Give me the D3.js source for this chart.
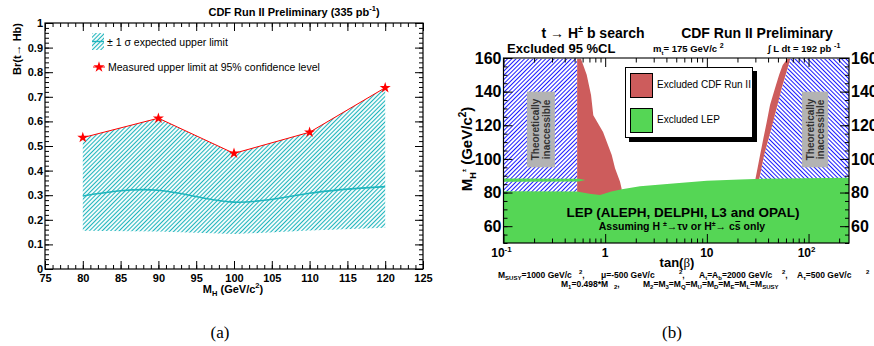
<!DOCTYPE html>
<html><head><meta charset="utf-8">
<script src="https://cdn.jsdelivr.net/npm/d3@7"></script>
<style>
body{margin:0;background:#fff}
svg{display:block;font-family:"Liberation Sans",Arial,Helvetica,sans-serif}
</style>
</head><body>
<svg id="c" width="874" height="346"></svg>
<script>
// ---------- Panel (a): Br(t -> Hb) upper limits ----------
const massPoints = [80, 90, 100, 110, 120];
const measuredLimit = [0.534, 0.613, 0.470, 0.556, 0.737];
const expectedMedian = [0.297, 0.320, 0.272, 0.308, 0.335];
const expectedLow = [0.155, 0.152, 0.142, 0.156, 0.168];
const massTicks = [75, 80, 85, 90, 95, 100, 105, 110, 115, 120, 125];
const brTicks = [0, 0.1, 0.2, 0.3, 0.4, 0.5, 0.6, 0.7, 0.8, 0.9, 1];

// ---------- Panel (b): tan(beta) vs M_H+ exclusion ----------
const tanbTickLabels = [[0.1, "10", "-1"], [1, "1", ""], [10, "10", ""], [100, "10", "2"]];
const mhTicks = [60, 80, 100, 120, 140, 160];
// CDF excluded region, small tan(beta)
const cdfLowEdge = [[0.574,160],[0.658,150],[0.726,138],[0.764,126],[0.953,116],[1.16,102.3],[1.25,94.5],[1.40,86.4],[1.45,82.4],[1.45,76],[0.53,76],[0.53,160]];
// CDF excluded region, large tan(beta): outer edge then boundary of inaccessible region
const cdfHighEdge = [[62.8,160],[55.7,155.8],[51.3,149.9],[46.8,142],[41.8,132],[38.8,122],[35.9,112],[33.3,102],[31.4,94],[29.8,87]];
const inaccessHighEdge = [[66.5,160],[54.5,142],[44.8,122],[36.5,102],[32.5,87]];
const inaccessLowMax = 0.53;
// LEP excluded region upper boundary
const lepEdge = [[0.1,80.8],[0.53,80.6],[0.7,79.3],[0.89,78.5],[1.15,80.6],[1.46,82],[2.2,83.7],[4.65,85.4],[10,87],[21.2,87.8],[29.8,88.1],[250,88.75]];
const lepStrip = [[0.1,88.4],[0.55,88.2],[0.64,87.4],[0.55,86.6],[0.1,86.4]];

const svg = d3.select("#c");
const defs = svg.append("defs");
const SERIF = '"Liberation Serif","Times New Roman",serif';

// Text with sub/superscript runs: segs = [[text, "sub"|"sup"|null, size?], ...]
function rich(t, segs, base) {
  let cur = 0;
  segs.forEach(([s, kind, size]) => {
    const off = kind === "sub" ? base * 0.28 : kind === "sup" ? -base * 0.42 : 0;
    const sp = t.append("tspan").attr("dy", off - cur).text(s);
    if (kind) sp.attr("font-size", size || base * 0.68);
    cur = off;
  });
  return t;
}

function hatch(id, color, angle, gap, w) {
  const p = defs.append("pattern").attr("id", id).attr("patternUnits", "userSpaceOnUse")
    .attr("width", gap).attr("height", gap).attr("patternTransform", `rotate(${angle})`);
  p.append("rect").attr("width", gap).attr("height", gap).attr("fill", "#fff");
  p.append("line").attr("x1", gap / 2).attr("y1", 0).attr("x2", gap / 2).attr("y2", gap)
    .attr("stroke", color).attr("stroke-width", w);
}
hatch("hatchCyan", "#1fb5bd", 45, 3.0, 1.1);
hatch("hatchBlueL", "#1a1aff", 45, 3.0, 1.0);
hatch("hatchBlueR", "#1a1aff", -45, 3.0, 1.0);

// ================= Panel (a) =================
const xA = d3.scaleLinear().domain([75, 125]).range([45, 423]);
const yA = d3.scaleLinear().domain([0, 1]).range([269, 23]);
const gA = svg.append("g");

const bandData = massPoints.map((m, i) => ({m, lo: expectedLow[i], hi: measuredLimit[i]}));
gA.append("path").datum(bandData)
  .attr("d", d3.area().x(d => xA(d.m)).y0(d => yA(d.lo)).y1(d => yA(d.hi)))
  .attr("fill", "url(#hatchCyan)");

gA.append("path").datum(massPoints.map((m, i) => [m, expectedMedian[i]]))
  .attr("d", d3.line().x(d => xA(d[0])).y(d => yA(d[1])).curve(d3.curveNatural))
  .attr("fill", "none").attr("stroke", "#1fb5bd").attr("stroke-width", 1.6);

gA.append("path").datum(massPoints.map((m, i) => [m, measuredLimit[i]]))
  .attr("d", d3.line().x(d => xA(d[0])).y(d => yA(d[1])))
  .attr("fill", "none").attr("stroke", "#ff0000").attr("stroke-width", 1);

const star = d3.symbol().type(d3.symbolStar).size(38);
gA.selectAll("path.star").data(massPoints.map((m, i) => [m, measuredLimit[i]]))
  .join("path").attr("class", "star")
  .attr("transform", d => `translate(${xA(d[0])},${yA(d[1])})`)
  .attr("d", star).attr("fill", "#ff0000");

// frame + axes
gA.append("rect").attr("x", 45).attr("y", 23).attr("width", 378).attr("height", 246)
  .attr("fill", "none").attr("stroke", "#000").attr("stroke-width", 1.2);

function styleAxis(g, fs) {
  g.select(".domain").remove();
  g.selectAll(".tick line").attr("stroke", "#000").attr("stroke-width", 1);
  g.selectAll("text").attr("font-size", fs).attr("font-weight", "bold").attr("fill", "#000")
    .attr("font-family", '"Liberation Sans",Arial,sans-serif');
}
const minorMass = d3.range(75, 125.5, 1);
const minorBr = d3.range(0, 1.001, 0.02);
[[d3.axisBottom, 269], [d3.axisTop, 23]].forEach(([ax, y], k) => {
  const maj = gA.append("g").attr("transform", `translate(0,${y})`)
    .call(ax(xA).tickValues(massTicks).tickSize(-8).tickPadding(5).tickFormat(k === 0 ? d3.format("d") : ""));
  styleAxis(maj, 11);
  const mn = gA.append("g").attr("transform", `translate(0,${y})`)
    .call(ax(xA).tickValues(minorMass).tickSize(-4).tickFormat(""));
  styleAxis(mn, 11);
});
[[d3.axisLeft, 45], [d3.axisRight, 423]].forEach(([ax, x], k) => {
  const maj = gA.append("g").attr("transform", `translate(${x},0)`)
    .call(ax(yA).tickValues(brTicks).tickSize(-8).tickPadding(2).tickFormat(k === 0 ? (d => d === 0 ? "0" : d === 1 ? "1" : d3.format(".1f")(d)) : ""));
  styleAxis(maj, 11);
  const mn = gA.append("g").attr("transform", `translate(${x},0)`)
    .call(ax(yA).tickValues(minorBr).tickSize(-4).tickFormat(""));
  styleAxis(mn, 11);
});

// titles
rich(gA.append("text").attr("x", 294).attr("y", 16).attr("text-anchor", "middle")
  .attr("font-size", 11).attr("font-weight", "bold"),
  [["CDF Run II Preliminary (335 pb", null], ["-1", "sup", 7.5], [")", null]], 11);

gA.append("text").attr("transform", "translate(21,23) rotate(-90)").attr("text-anchor", "end")
  .attr("font-size", 11).attr("font-weight", "bold").text("Br(t\u2192 Hb)");

rich(gA.append("text").attr("x", 233).attr("y", 293).attr("text-anchor", "middle")
  .attr("font-size", 11).attr("font-weight", "bold"),
  [["M", null], ["H", "sub", 7.5], [" (GeV/c", null], ["2", "sup", 7.5], [")", null]], 11);

// legend
gA.append("rect").attr("x", 92).attr("y", 33).attr("width", 12).attr("height", 17).attr("fill", "url(#hatchCyan)");
gA.append("line").attr("x1", 92).attr("x2", 104).attr("y1", 41.5).attr("y2", 41.5).attr("stroke", "#1fb5bd").attr("stroke-width", 1.4);
gA.append("text").attr("x", 107).attr("y", 46).attr("font-size", 10.5).text("\u00b1 1 \u03c3 expected upper limit");
gA.append("line").attr("x1", 93).attr("x2", 105).attr("y1", 67).attr("y2", 67).attr("stroke", "#ff0000");
gA.append("path").attr("transform", "translate(99,67)").attr("d", star).attr("fill", "#ff0000");
gA.append("text").attr("x", 108).attr("y", 71).attr("font-size", 10.5).text("Measured upper limit at 95% confidence level");

svg.append("text").attr("x", 220).attr("y", 338).attr("text-anchor", "middle")
  .attr("font-family", SERIF).attr("font-size", 17).text("(a)");

// ================= Panel (b) =================
const xB = d3.scaleLog().domain([0.1, 250]).range([503.5, 849]);
const yB = d3.scaleLinear().domain([50, 160]).range([243, 58]);
const gB = svg.append("g");
defs.append("clipPath").attr("id", "clipB").append("rect")
  .attr("x", 503.5).attr("y", 58).attr("width", 345.5).attr("height", 185);
const plotB = gB.append("g").attr("clip-path", "url(#clipB)");
const lineB = d3.line().x(d => xB(d[0])).y(d => yB(d[1]));

// theoretically inaccessible (hatched)
plotB.append("path").datum([[0.1,160],[inaccessLowMax,160],[inaccessLowMax,76],[0.1,76]])
  .attr("d", lineB).attr("fill", "url(#hatchBlueL)");
plotB.append("path").datum(inaccessHighEdge.concat([[250,87],[250,160]]))
  .attr("d", lineB).attr("fill", "url(#hatchBlueR)");

// CDF exclusion
const cdfRed = "#cd5c5c";
plotB.append("path").datum(cdfLowEdge).attr("d", lineB).attr("fill", cdfRed);
plotB.append("path").datum(cdfHighEdge.concat(inaccessHighEdge.slice().reverse()))
  .attr("d", lineB).attr("fill", cdfRed);

// LEP exclusion
const lepGreen = "#55d655";
plotB.append("path").datum(lepEdge.concat([[250,50],[0.1,50]])).attr("d", lineB).attr("fill", lepGreen);
plotB.append("path").datum(lepStrip).attr("d", lineB).attr("fill", lepGreen);

// gray annotation boxes
function grayBox(x0, x1) {
  const bx = xB(x0), bw = xB(x1) - xB(x0), by = yB(140), bh = yB(95) - yB(140);
  plotB.append("rect").attr("x", bx).attr("y", by).attr("width", bw).attr("height", bh).attr("fill", "#b3b3b3");
  const cx = bx + bw / 2, cy = by + bh / 2;
  const t = plotB.append("text").attr("transform", `translate(${cx},${cy}) rotate(-90)`)
    .attr("text-anchor", "middle").attr("font-size", 10).attr("font-weight", "bold").attr("fill", "#333");
  t.append("tspan").attr("x", 0).attr("dy", -1.5).text("Theoretically");
  t.append("tspan").attr("x", 0).attr("dy", 10.5).text("inaccessible");
}
grayBox(0.17, 0.32);
grayBox(86, 156);

// LEP labels
gB.append("text").attr("x", 683).attr("y", 217).attr("text-anchor", "middle")
  .attr("font-size", 13.5).attr("font-weight", "bold").text("LEP (ALEPH, DELPHI, L3 and OPAL)");
const asmSegs = [["Assuming H ", null], ["\u00b1", "sup", 7], ["\u2192\u03c4\u03bd or H", null], ["\u00b1", "sup", 7], ["\u2192 cs", null], [" only", null]];
const asm = rich(gB.append("text").attr("x", 682).attr("y", 230).attr("text-anchor", "middle")
  .attr("font-size", 10.5).attr("font-weight", "bold"), asmSegs, 10.5);
// bar over the strange quark
{
  const idx = asmSegs.slice(0, 5).map(d => d[0]).join("").length - 1;
  const r = asm.node().getExtentOfChar(idx);
  gB.append("line").attr("x1", r.x + 0.5).attr("x2", r.x + r.width - 0.5)
    .attr("y1", 221.5).attr("y2", 221.5).attr("stroke", "#000").attr("stroke-width", 1);
}

// frame
gB.append("rect").attr("x", 503.5).attr("y", 58).attr("width", 345.5).attr("height", 185)
  .attr("fill", "none").attr("stroke", "#000").attr("stroke-width", 1.2);
gB.append("line").attr("x1", 503.5).attr("x2", 849).attr("y1", 58).attr("y2", 58).attr("stroke", "#777").attr("stroke-width", 1.6);

// axes
const minorMh = d3.range(50, 160.5, 5);
[[d3.axisLeft, 503.5], [d3.axisRight, 849]].forEach(([ax, x]) => {
  const maj = gB.append("g").attr("transform", `translate(${x},0)`)
    .call(ax(yB).tickValues(mhTicks).tickSize(-9).tickPadding(2).tickFormat(d3.format("d")));
  styleAxis(maj, 16);
  const mn = gB.append("g").attr("transform", `translate(${x},0)`)
    .call(ax(yB).tickValues(minorMh).tickSize(-4).tickFormat(""));
  styleAxis(mn, 16);
});
const minorTb = [];
[0.1, 1, 10, 100].forEach(dec => { for (let k = 2; k <= 9; k++) if (dec * k <= 250) minorTb.push(dec * k); });
[[d3.axisBottom, 243], [d3.axisTop, 58]].forEach(([ax, y]) => {
  const maj = gB.append("g").attr("transform", `translate(0,${y})`)
    .call(ax(xB).tickValues(tanbTickLabels.map(d => d[0])).tickSize(-9).tickFormat(""));
  styleAxis(maj, 12);
  const mn = gB.append("g").attr("transform", `translate(0,${y})`)
    .call(ax(xB).tickValues(minorTb).tickSize(-4.5).tickFormat(""));
  styleAxis(mn, 12);
});
tanbTickLabels.forEach(([v, base, exp]) => {
  const t = gB.append("text").attr("x", xB(v) + (exp ? -2 : 0)).attr("y", 257).attr("text-anchor", "middle")
    .attr("font-size", 12).attr("font-weight", "bold");
  rich(t, exp ? [[base, null], [exp, "sup", 8]] : [[base, null]], 12);
});

const tb = gB.append("text").attr("x", 677).attr("y", 267).attr("text-anchor", "middle")
  .attr("font-size", 13).attr("font-weight", "bold");
tb.append("tspan").text("tan(");
tb.append("tspan").attr("font-family", SERIF).attr("font-weight", "normal").text("\u03b2");
tb.append("tspan").text(")");

rich(gB.append("text").attr("transform", "translate(472,149) rotate(-90)").attr("text-anchor", "middle")
  .attr("font-size", 15).attr("font-weight", "bold"),
  [["M", null], ["H", "sub", 9], ["\u00b1", "sup", 6], [" (GeV/c", null], ["2", "sup", 10], [")", null]], 15);

// headers
rich(gB.append("text").attr("x", 593).attr("y", 38).attr("text-anchor", "middle").attr("font-size", 14).attr("font-weight", "bold"),
  [["t \u2192 H", null], ["\u00b1", "sup", 9], [" b search", null]], 14);
gB.append("text").attr("x", 757).attr("y", 38).attr("text-anchor", "middle").attr("font-size", 14).attr("font-weight", "bold")
  .text("CDF Run II Preliminary");
gB.append("text").attr("x", 507).attr("y", 53).attr("font-size", 13).attr("font-weight", "bold").text("Excluded 95 %CL");
rich(gB.append("text").attr("x", 653).attr("y", 52).attr("font-size", 9.5).attr("font-weight", "bold"),
  [["m", null], ["t", "sub", 6], ["= 175 GeV/c ", null], ["2", "sup", 7]], 9.5);
rich(gB.append("text").attr("x", 768).attr("y", 52).attr("font-size", 9.5).attr("font-weight", "bold"),
  [["\u222b L dt = 192 pb ", null], ["-1", "sup", 7]], 9.5);

// legend
gB.append("rect").attr("x", 629).attr("y", 71).attr("width", 128).attr("height", 71).attr("fill", "#000");
gB.append("rect").attr("x", 625.5).attr("y", 67.5).attr("width", 127).attr("height", 70).attr("fill", "#fff").attr("stroke", "#000").attr("stroke-width", 1);
gB.append("rect").attr("x", 630.5).attr("y", 73.5).attr("width", 22).attr("height", 24).attr("fill", cdfRed).attr("stroke", "#000");
gB.append("rect").attr("x", 630.5).attr("y", 108.5).attr("width", 22).attr("height", 24).attr("fill", lepGreen).attr("stroke", "#000");
gB.append("text").attr("x", 657).attr("y", 88).attr("font-size", 10).text("Excluded CDF Run II");
gB.append("text").attr("x", 657).attr("y", 123).attr("font-size", 10).text("Excluded LEP");

// parameter footnote: each run placed at its own x
function note(x, y, segs) {
  rich(gB.append("text").attr("x", x).attr("y", y).attr("font-size", 8.5).attr("font-weight", "bold"), segs, 8.5);
}
const S = 6;
note(498, 278, [["M", null], ["SUSY", "sub", S], ["=1000 GeV/c", null]]);
note(579, 278, [["2", "sup", S], [",", null]]);
note(601, 278, [["\u03bc=-500 GeV/c", null]]);
note(679, 278, [["2", "sup", S], [",", null]]);
note(699, 278, [["A", null], ["t", "sub", S], ["=A", null], ["b", "sub", S], ["=2000 GeV/c", null]]);
note(782, 278, [["2", "sup", S], [",", null]]);
note(797, 278, [["A", null], ["\u03c4", "sub", S], ["=500 GeV/c", null]]);
note(866, 278, [["2", "sup", S]]);
note(561, 287, [["M", null], ["1", "sub", S], ["=0.498*M", null]]);
note(614, 287, [["2", "sub", S], [",", null]]);
note(643, 287, [["M", null], ["2", "sub", S], ["=M", null], ["3", "sub", S], ["=M", null], ["Q", "sub", S], ["=M", null], ["U", "sub", S],
  ["=M", null], ["D", "sub", S], ["=M", null], ["E", "sub", S], ["=M", null], ["L", "sub", S], ["=M", null], ["SUSY", "sub", S]]);

svg.append("text").attr("x", 672).attr("y", 338).attr("text-anchor", "middle")
  .attr("font-family", SERIF).attr("font-size", 17).text("(b)");
</script>
</body></html>
